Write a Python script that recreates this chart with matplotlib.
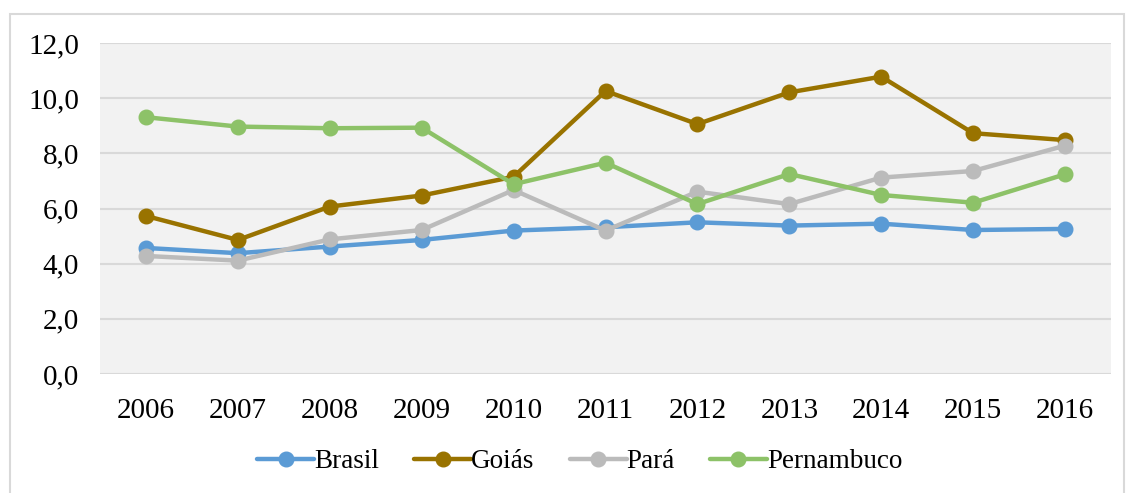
import matplotlib
matplotlib.use("Agg")
import matplotlib.pyplot as plt
from matplotlib.patches import Rectangle

plt.rcParams['font.family'] = ['Liberation Serif', 'DejaVu Serif']

anos = ['2006', '2007', '2008', '2009', '2010', '2011', '2012', '2013', '2014', '2015', '2016']
brasil = [4.57, 4.38, 4.62, 4.86, 5.20, 5.32, 5.50, 5.38, 5.45, 5.22, 5.26]
goias = [5.73, 4.86, 6.07, 6.47, 7.15, 10.26, 9.06, 10.21, 10.78, 8.73, 8.48]
para = [4.28, 4.11, 4.88, 5.22, 6.67, 5.20, 6.61, 6.16, 7.12, 7.36, 8.28]
pernambuco = [9.31, 8.97, 8.91, 8.93, 6.88, 7.66, 6.16, 7.25, 6.49, 6.21, 7.24]

series = [('Brasil', brasil, '#5B9BD5'),
          ('Goiás', goias, '#997300'),
          ('Pará', para, '#BBBBBB'),
          ('Pernambuco', pernambuco, '#8DC268')]

fig = plt.figure(figsize=(11.28, 4.93), dpi=100)
fig.patches.append(Rectangle((10/1128, -0.01), 1114/1128, 1 - 14/493 + 0.01,
                             transform=fig.transFigure, fill=False,
                             edgecolor='#D9D9D9', linewidth=1.5))
ax = fig.add_axes([100/1128, 1 - 374/493, 1011/1128, 331/493])
ax.set_facecolor('#F2F2F2')

x = list(range(len(anos)))
for nome, vals, cor in series:
    ax.plot(x, vals, color=cor, linewidth=3.2, marker='o', markersize=10.5,
            label=nome, solid_capstyle='round')

ax.set_xlim(-0.5, len(anos) - 0.5)
ax.set_ylim(0, 12)
ax.set_yticks([0, 2, 4, 6, 8, 10, 12])
ax.set_yticklabels(['0,0', '2,0', '4,0', '6,0', '8,0', '10,0', '12,0'])
ax.set_xticks(x)
ax.set_xticklabels(anos)
ax.tick_params(axis='both', length=0, labelsize=21)
ax.tick_params(axis='y', pad=15)
ax.tick_params(axis='x', pad=17)
ax.grid(axis='y', color='#D9D9D9', linewidth=1.5)
ax.set_axisbelow(True)
for s in ax.spines.values():
    s.set_visible(False)

leg = fig.legend(loc='center', bbox_to_anchor=(0.514, 1 - 462/493), ncol=4,
                 frameon=False, fontsize=19.5, handlelength=2.1,
                 handletextpad=0.0, columnspacing=1.3)

fig.savefig('out.png', dpi=100)
